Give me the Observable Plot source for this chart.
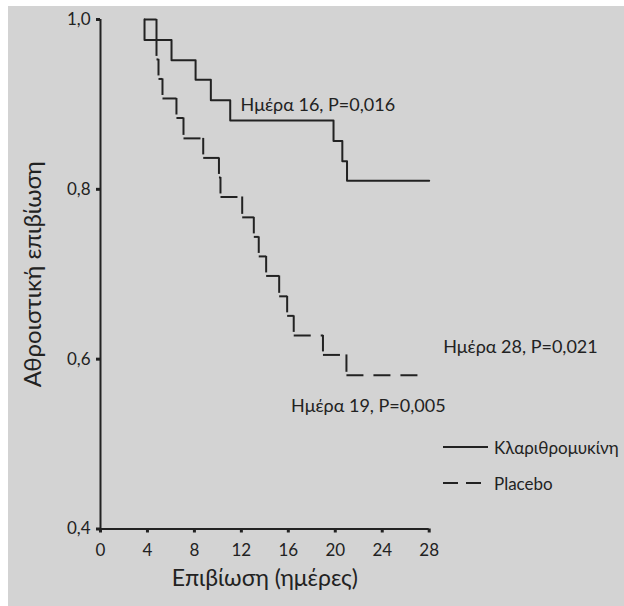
<!DOCTYPE html>
<html><head><meta charset="utf-8">
<script src="https://cdn.jsdelivr.net/npm/d3@7"></script>
<script src="https://cdn.jsdelivr.net/npm/@observablehq/plot@0.6"></script>
<style>
html,body{margin:0;padding:0;background:#fff;}
#wrap{position:absolute;left:8px;top:6px;width:616px;height:600px;background:#d3d3d3;font-family:Lato,"Noto Sans",sans-serif;color:#222;}
.leg{position:absolute;display:flex;align-items:center;height:20px;font-size:17px;white-space:nowrap;}
.leg svg{margin-right:6px;}
</style></head><body><div id="wrap"></div>
<script>
// Κλαριθρομυκίνη (solid)
const clariTimes = [3.75, 3.75, 6.05, 8.1, 9.4, 11.05, 19.85, 20.6, 21.0, 28];
const clariSurv  = [1.0, 0.976, 0.952, 0.929, 0.905, 0.881, 0.857, 0.833, 0.810, 0.810];
// Placebo (dashed)
const placeboTimes = [3.7, 4.77, 4.77, 4.94, 5.28, 6.47, 7.07, 8.75, 10.09, 10.22, 12.07, 13.06, 13.48, 14.11, 15.22, 15.9, 16.46, 18.95, 20.95, 27.0];
const placeboSurv  = [1.0, 0.977, 0.953, 0.930, 0.907, 0.884, 0.860, 0.837, 0.814, 0.791, 0.767, 0.744, 0.721, 0.698, 0.674, 0.651, 0.628, 0.605, 0.581, 0.581];
const xTicks = [0, 4, 8, 12, 16, 20, 24, 28];
const yTicks = [0.4, 0.6, 0.8, 1.0];
const xTitle = "Επιβίωση (ημέρες)";
const yTitle = "Αθροιστική επιβίωση";
const annotStart = [{x: 11.93, y: 0.899, label: "Ημέρα 16, P=0,016"}, {x: 29.19, y: 0.614, label: "Ημέρα 28, P=0,021"}];
const annotEnd = [{x: 29.4, y: 0.544, label: "Ημέρα 19, P=0,005"}];
const legendLabels = ["Κλαριθρομυκίνη", "Placebo"];

const W = 616, H = 600, mL = 92, mR = 195.3, mT = 13, mB = 77.5;
const ink = "#222";
const clari = clariTimes.map((t, i) => ({t, s: clariSurv[i]}));
const pts = [];
placeboTimes.forEach((t, i) => {
  if (pts.length && pts[pts.length - 1].t === t) pts[pts.length - 1].s = placeboSurv[i];
  else pts.push({t, s: placeboSurv[i]});
});
const gap = 3 * 0.6 / (H - mT - mB);
const horiz = [], vert = [];
for (let k = 0; k < pts.length - 1; k++) {
  const a = pts[k], b = pts[k + 1];
  if (b.t > a.t) horiz.push({x1: a.t, x2: b.t, y: a.s});
  if (b.s < a.s) vert.push({x: b.t, y1: a.s, y2: b.s + gap});
}
const fmt = d => d.toFixed(1).replace(".", ",");

const chart = Plot.plot({
  width: W, height: H,
  marginLeft: mL, marginRight: mR, marginTop: mT, marginBottom: mB,
  style: {background: "transparent", fontFamily: "Lato, 'Noto Sans', sans-serif", fontSize: "17px", color: ink, overflow: "visible"},
  x: {domain: [0, 28]},
  y: {domain: [0.4, 1.0]},
  marks: [
    Plot.axisX({ticks: xTicks, tickSize: 4, strokeWidth: 3, tickPadding: 11, label: null, stroke: ink, fill: ink}),
    Plot.axisY({ticks: yTicks, tickSize: 4, strokeWidth: 3, tickPadding: 6, tickFormat: fmt, label: null, stroke: ink, fill: ink}),
    Plot.ruleX([0], {y1: 0.4, y2: 1.0, strokeWidth: 2, stroke: ink}),
    Plot.ruleY([0.4], {x1: 0, x2: 28, strokeWidth: 2, stroke: ink}),
    Plot.line(clari, {x: "t", y: "s", curve: "step-after", strokeWidth: 2, stroke: ink}),
    Plot.link(horiz, {x1: "x1", x2: "x2", y1: "y", y2: "y", strokeWidth: 2, stroke: ink, strokeDasharray: "17,10"}),
    Plot.ruleX(vert, {x: "x", y1: "y1", y2: "y2", strokeWidth: 2, stroke: ink}),
    Plot.text(annotStart, {x: "x", y: "y", text: "label", textAnchor: "start", fontSize: 18, fill: ink}),
    Plot.text(annotEnd, {x: "x", y: "y", text: "label", textAnchor: "end", fontSize: 18, fill: ink}),
    Plot.text([xTitle], {frameAnchor: "bottom", dy: 50, textAnchor: "middle", lineAnchor: "middle", fontSize: 23, fill: ink}),
    Plot.text([yTitle], {frameAnchor: "left", dx: -67, rotate: -90, textAnchor: "middle", lineAnchor: "middle", fontSize: 24, fill: ink})
  ]
});
const wrap = document.getElementById("wrap");
wrap.appendChild(chart);

function legendRow(label, dashed, top) {
  const row = document.createElement("div");
  row.className = "leg";
  row.style.left = "435px";
  row.style.top = top + "px";
  const svg = d3.create("svg").attr("width", 45).attr("height", 4);
  svg.append("line").attr("x1", 0).attr("x2", 45).attr("y1", 2).attr("y2", 2)
    .attr("stroke", ink).attr("stroke-width", 2)
    .attr("stroke-dasharray", dashed ? "15,8" : null);
  row.appendChild(svg.node());
  const span = document.createElement("span");
  span.textContent = label;
  row.appendChild(span);
  wrap.appendChild(row);
}
legendRow(legendLabels[0], false, 431);
legendRow(legendLabels[1], true, 467);
</script>
</body></html>
